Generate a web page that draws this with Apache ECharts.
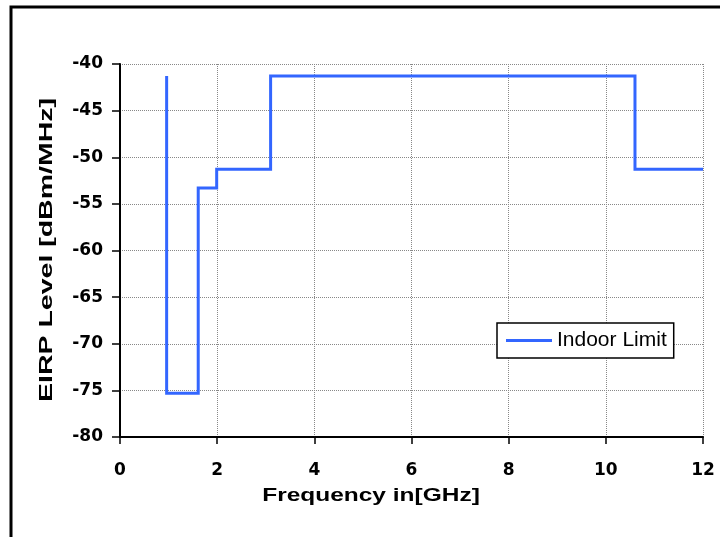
<!DOCTYPE html>
<html>
<head>
<meta charset="utf-8">
<script src="https://cdn.jsdelivr.net/npm/echarts@6/dist/echarts.min.js"></script>
<style>html,body{margin:0;padding:0;background:#fff;}#c{width:720px;height:537px;}</style>
</head>
<body>
<div id="c"></div>
<script>
const freqGHz = [0.96, 0.96, 1.61, 1.61, 1.99, 1.99, 3.1, 3.1, 10.6, 10.6, 12];
const eirp = [-41.3, -75.3, -75.3, -53.3, -53.3, -51.3, -51.3, -41.3, -41.3, -51.3, -51.3];
const seriesName = 'Indoor Limit';
const xTitle = 'Frequency in[GHz]';
const yTitle = 'EIRP Level [dBm/MHz]';

const chart = echarts.init(document.getElementById('c'), null, {renderer: 'canvas'});
const pts = freqGHz.map((f, i) => [f, eirp[i]]);
const arial = '"Liberation Sans", Arial, sans-serif';
const tickFont = '"DejaVu Sans", Arial, sans-serif';
chart.setOption({
  animation: false,
  backgroundColor: '#fff',
  grid: {left: 120, right: 17, top: 64, bottom: 100, containLabel: false},
  graphic: [
    {
      type: 'rect', shape: {x: 11, y: 7, width: 740, height: 560},
      style: {fill: 'none', stroke: '#000', lineWidth: 3}, silent: true, z: 0
    },
    {
      type: 'text', x: 371, y: 496, scaleX: 1.36, z: 10,
      style: {text: xTitle, font: 'bold 18px ' + arial, fill: '#000', align: 'center', verticalAlign: 'middle'}
    },
    {
      type: 'text', x: 47, y: 250, rotation: Math.PI / 2, scaleX: 1.5, z: 10,
      style: {text: yTitle, font: 'bold 19px ' + arial, fill: '#000', align: 'center', verticalAlign: 'middle'}
    }
  ],
  legend: {
    data: [seriesName], left: 497, top: 323, orient: 'vertical',
    borderColor: '#000', borderWidth: 1.5, padding: [7, 7, 7, 9],
    itemWidth: 46, itemHeight: 3, itemGap: 0,
    icon: 'rect',
    textStyle: {fontFamily: arial, fontSize: 21, color: '#000', padding: [1, 0, 0, 0]},
    backgroundColor: '#fff'
  },
  xAxis: {
    type: 'value', min: 0, max: 12, interval: 2,
    axisLine: {show: true, onZero: false, lineStyle: {color: '#000', width: 2}},
    axisTick: {show: true, inside: false, length: 7, lineStyle: {color: '#000', width: 1.5}},
    axisLabel: {fontFamily: tickFont, fontSize: 17, fontWeight: 'bold', color: '#000', margin: 25},
    splitLine: {show: true, lineStyle: {color: '#888', type: 'dotted', width: 1}}
  },
  yAxis: {
    type: 'value', min: -80, max: -40, interval: 5,
    axisLine: {show: true, onZero: false, lineStyle: {color: '#000', width: 2}},
    axisTick: {show: true, inside: false, length: 8, lineStyle: {color: '#000', width: 1.5}},
    axisLabel: {fontFamily: tickFont, fontSize: 17, fontWeight: 'bold', color: '#000', margin: 17},
    splitLine: {show: true, lineStyle: {color: '#888', type: 'dotted', width: 1}}
  },
  series: [{
    name: seriesName, type: 'line', data: pts, showSymbol: false, symbol: 'none',
    lineStyle: {color: '#3366FF', width: 3, join: 'miter'}, itemStyle: {color: '#3366FF'}
  }]
});
</script>
</body>
</html>
